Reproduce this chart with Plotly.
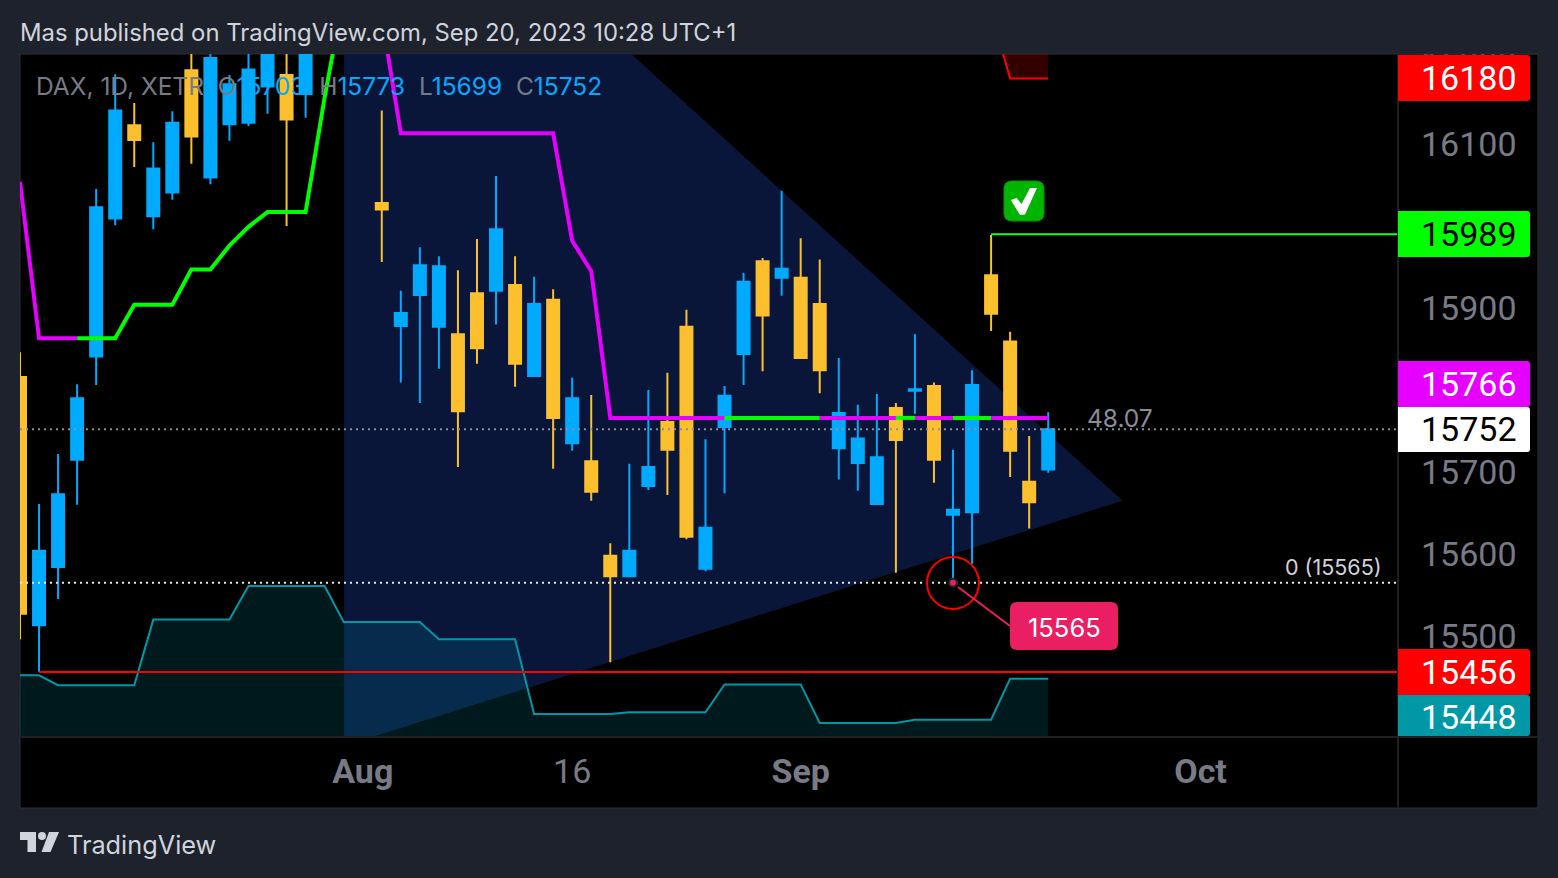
import plotly.graph_objects as go

# ---------- data ----------
candle_idx = [0,1,2,3,4,5,6,7,8,9,10,11,12,13,14,15,
              19,20,21,22,23,24,25,26,27,28,29,30,31,32,33,34,35,36,37,38,39,40,41,42,43,44,45,46,47,48,49,50,51,52,53,54]
opens  = [15816,15513,15584,15715,15841,16009,16123,16012,16041,16190,16059,16124,16126,16170,16184,16161,
          16028,15878,15916,15877,15868,15918,15921,15928,15817,15910,15735,15713,15598,15573,15683,15761,15877,15582,15755,15844,15957,15937,15937,15905,15729,15711,15661,15778,15799,15805,15648,15651,15940,15859,15688,15703]
highs  = [15846,15661,15722,15807,16045,16185,16150,16102,16140,16239,16217,16184,16217,16227,16227,16227,
          16141,15921,15974,15963,15946,15984,16061,15963,15938,15923,15815,15794,15613,15710,15800,15821,15898,15740,15805,15943,15961,16043,15985,15959,15839,15782,15795,15784,15868,15809,15727,15824,15989,15871,15744,15773]
lows   = [15496,15456,15545,15660,15806,16001,16072,15996,16032,16076,16051,16104,16122,16137,16000,16132,
          15956,15809,15784,15826,15706,15832,15880,15804,15817,15704,15726,15665,15468,15572,15678,15672,15618,15579,15674,15806,15823,15915,15839,15796,15691,15677,15661,15577,15771,15687,15565,15588,15872,15694,15631,15699]
closes = [15527,15604,15673,15790,16023,16141,16105,16070,16126,16109,16205,16173,16191,16221,16130,16221,
          16020,15894,15952,15951,15774,15851,15996,15832,15905,15766,15790,15676,15573,15604,15706,15727,15621,15632,15793,15932,15891,15948,15839,15824,15772,15741,15718,15739,15801,15715,15654,15806,15893,15726,15663,15752]

atr_idx = list(range(55))
atr_val = [15452,15452,15440,15440,15440,15440,15440,15520,15520,15520,15520,15520,15561,15561,15561,15561,15561,
           15517,15517,15517,15517,15517,15496,15496,15496,15496,15496,15405,15405,15405,15405,15405,
           15407,15407,15407,15407,15407,15441,15441,15441,15441,15441,15394,15394,15394,15394,15394,
           15398,15398,15398,15398,15398,15448,15448,15448]

trend_a_idx = [0,1,2,3];                 trend_a_val = [16054,15863,15863,15863]
trend_b_idx = [3,4,5,6,7,8,9,10,11,12,13,14,15,16,17]
trend_b_val = [15863,15863,15863,15904,15904,15904,15947,15947,15976,15999,16017,16017,16017,16157,16282]
trend_c_idx = [19,20,21,22,23,24,25,26,27,28,29,30,31,32,33,34,35,36,37]
trend_c_val = [16254,16113,16113,16113,16113,16113,16113,16113,16113,16113,15982,15945,15766,15766,15766,15766,15766,15766,15766]
level_mid = 15766
green_segments = [(37,42),(46,47),(49,51)]
magenta_segments = [(42,46),(47,49),(51,54)]

stop_idx = [51,52,54];  stop_val = [16260,16180,16180]
stop_top = 16300
target_price = 15990;   target_from = 51
support_price = 15456;  support_from = 1
last_close = 15752
low_price = 15565;      low_idx = 49
x_end = 72.37
y_top, y_bot = 16209.76, 15376.83

tri_x = [17.02, 32.1, 57.9, 18.49, 17.02]
tri_y = [y_top, y_top, 15665, y_bot, y_bot]

tick_prices = [16200,16100,15900,15700,15600,15500]
date_ticks = [18,29,41,62]
date_labels = ["<b>Aug</b>","16","<b>Sep</b>","<b>Oct</b>"]
price_tags = [("16180",55,101,78,"#ff0000","#ffffff"),("15989",211,257,234,"#00ff00","#000000"),
              ("15766",361,407,384,"#e600ff","#ffffff"),("15752",407,452,429,"#ffffff","#000000"),
              ("15456",649,695,672,"#ff0000","#ffffff"),("15448",695,736,717,"#0097a7","#ffffff")]

# ---------- style ----------
BG="#1e222d"; BLUE="#00aaff"; ORANGE="#fcc02e"; MAG="#e600ff"; GRN="#00ff00"; TEAL="#0097a7"; GREY="#787b86"; LIGHT="#d1d4dc"
FONT="Inter"; NUM="Roboto"
def X(p): return (p-20)/1378
def Y(p): return (737-p)/683
def rrect(x0,y0,x1,y1,r):
    return (f"M{X(x0+r)},{Y(y0)} L{X(x1-r)},{Y(y0)} Q{X(x1)},{Y(y0)} {X(x1)},{Y(y0+r)} "
            f"L{X(x1)},{Y(y1-r)} Q{X(x1)},{Y(y1)} {X(x1-r)},{Y(y1)} L{X(x0+r)},{Y(y1)} "
            f"Q{X(x0)},{Y(y1)} {X(x0)},{Y(y1-r)} L{X(x0)},{Y(y0+r)} Q{X(x0)},{Y(y0)} {X(x0+r)},{Y(y0)} Z")
def rtag(x0,y0,x1,y1,r):
    return (f"M{X(x0)},{Y(y0)} L{X(x1-r)},{Y(y0)} Q{X(x1)},{Y(y0)} {X(x1)},{Y(y0+r)} "
            f"L{X(x1)},{Y(y1-r)} Q{X(x1)},{Y(y1)} {X(x1-r)},{Y(y1)} L{X(x0)},{Y(y1)} Z")
def poly(pts):
    return "M"+" L".join(f"{X(a)},{Y(b)}" for a,b in pts)+" Z"
def pshape(path,fill,line=None,lw=0,layer="above"):
    return dict(type="path",xref="paper",yref="paper",path=path,fillcolor=fill,layer=layer,
                line=dict(color=line or fill,width=lw))
def pline(x0,y0,x1,y1,c,w,layer="above"):
    return dict(type="line",xref="paper",yref="paper",x0=X(x0),y0=Y(y0),x1=X(x1),y1=Y(y1),layer=layer,line=dict(color=c,width=w))
def note(t,x,y,size,color,anchor="left",font=FONT):
    return dict(text=t,xref="paper",yref="paper",x=X(x),y=Y(y),xanchor=anchor,yanchor="middle",showarrow=False,
                font=dict(size=size,color=color,family=font),borderpad=0,borderwidth=0)

fig=go.Figure()
fig.add_trace(go.Candlestick(x=candle_idx,open=opens,high=highs,low=lows,close=closes,
    increasing=dict(line=dict(color=BLUE,width=2),fillcolor=BLUE),
    decreasing=dict(line=dict(color=ORANGE,width=2),fillcolor=ORANGE),
    whiskerwidth=0,showlegend=False,hoverinfo="skip"))
fig.add_trace(go.Scatter(x=atr_idx,y=atr_val,mode="lines",line=dict(color=TEAL,width=2),fill="tozeroy",
    fillcolor="rgba(0,151,167,0.17)",showlegend=False,hoverinfo="skip"))
fig.add_trace(go.Scatter(x=stop_idx+[stop_idx[-1],stop_idx[0]],y=stop_val+[stop_top,stop_top],mode="none",fill="toself",
    fillcolor="rgba(255,0,0,0.2)",showlegend=False,hoverinfo="skip"))
fig.add_trace(go.Scatter(x=stop_idx,y=stop_val,mode="lines",line=dict(color="#ff0000",width=2),showlegend=False,hoverinfo="skip"))
LW=4
fig.add_trace(go.Scatter(x=trend_a_idx,y=trend_a_val,mode="lines",line=dict(color=MAG,width=LW),showlegend=False,hoverinfo="skip"))
fig.add_trace(go.Scatter(x=trend_b_idx,y=trend_b_val,mode="lines",line=dict(color=GRN,width=LW),showlegend=False,hoverinfo="skip"))
fig.add_trace(go.Scatter(x=trend_c_idx,y=trend_c_val,mode="lines",line=dict(color=MAG,width=LW),showlegend=False,hoverinfo="skip"))
for a,b in magenta_segments:
    fig.add_trace(go.Scatter(x=[a,b],y=[level_mid,level_mid],mode="lines",line=dict(color=MAG,width=LW),showlegend=False,hoverinfo="skip"))
for a,b in green_segments:
    fig.add_trace(go.Scatter(x=[a,b],y=[level_mid,level_mid],mode="lines",line=dict(color=GRN,width=LW),showlegend=False,hoverinfo="skip"))
fig.add_trace(go.Scatter(x=[support_from,x_end],y=[support_price]*2,mode="lines",line=dict(color="#ff0000",width=2),showlegend=False,hoverinfo="skip"))
fig.add_trace(go.Scatter(x=[target_from,x_end],y=[target_price]*2,mode="lines",line=dict(color="#19ff19",width=2),showlegend=False,hoverinfo="skip"))
fig.add_trace(go.Scatter(x=[0,x_end],y=[last_close]*2,mode="lines",line=dict(color="#8a8e99",width=2,dash="2px,4px"),showlegend=False,hoverinfo="skip"))
fig.add_trace(go.Scatter(x=[0,x_end],y=[low_price]*2,mode="lines",line=dict(color="#e8e8e8",width=2,dash="2px,4px"),showlegend=False,hoverinfo="skip"))
fig.add_trace(go.Scatter(x=[low_idx],y=[low_price],mode="markers",marker=dict(color="#e91e63",size=8,line=dict(color="#1e222d",width=2)),showlegend=False,hoverinfo="skip"))

shapes=[
    pshape(poly([(20,54),(1538,54),(1538,808),(20,808)]),"#000000","#2a2e39",1,"below"),
    dict(type="path",xref="x",yref="y",layer="below",line=dict(width=0),fillcolor="#09163a",
         path="M"+" L".join(f"{a},{b}" for a,b in zip(tri_x,tri_y))+" Z"),
    pline(1398,54,1398,808,"#1f1f1f",2),
    pline(20,737,1538,737,"#1f1f1f",2),
    pshape(poly([(1398,40),(1538,40),(1538,54),(1398,54)]),BG),
    pline(1398,54,1538,54,"#2a2e39",1),
]
for t,y0,y1,yc,fill,tc in price_tags:
    shapes.append(pshape(rtag(1398,y0,1530,y1,3),fill))
shapes.append(dict(type="circle",xref="paper",yref="paper",x0=X(927),x1=X(979),y0=Y(557),y1=Y(609),layer="above",line=dict(color="#ff0000",width=2)))
shapes.append(pline(958,587,1010,626,"#e91e63",2))
shapes.append(pshape(rrect(1010,602,1118,650,7),"#e91e63"))
shapes.append(pshape(rrect(1004,181,1044,221,8),"#00b400","#009a00",1))
shapes.append(pshape(poly([(1010.7,200),(1016.7,198),(1021.5,204),(1030,188),(1037,188),(1025,214.5),(1020,215)]),"#ffffff"))
shapes.append(pshape(poly([(20,832),(36,832),(36,852),(27.5,852),(27.5,840),(20,840)]),LIGHT))
shapes.append(dict(type="circle",xref="paper",yref="paper",x0=X(38),x1=X(46),y0=Y(832),y1=Y(840),layer="above",fillcolor=LIGHT,line=dict(width=0)))
shapes.append(pshape(poly([(49,832),(59,832),(50.5,852),(41.5,852)]),LIGHT))

annots=[
    note("Mas published on TradingView.com, Sep 20, 2023 10:28 UTC+1",20,32,23.87,LIGHT),
    note(f"DAX, 1D, XETR  O<span style='color:{BLUE}'>15703</span>  H<span style='color:{BLUE}'>15773</span>  L<span style='color:{BLUE}'>15699</span>  C<span style='color:{BLUE}'>15752</span>",36,86,24.5,GREY),
    note("48.07",1120,418,24.5,"#8a8e99","center"),
    note("0 (15565)",1382,567,21.5,LIGHT,"right"),
    note("15565",1064,627,25.5,"#ffffff","center"),
    note("TradingView",67,844,25.3,LIGHT),
]
for t,y0,y1,yc,fill,tc in price_tags:
    annots.append(note(t,1517,yc,34,tc,"right",NUM))

fig.update_layout(
    width=1558,height=878,autosize=False,
    margin=dict(l=20,r=160,t=54,b=141,pad=0),
    paper_bgcolor=BG,plot_bgcolor="#000000",showlegend=False,
    boxgap=0.1,
    xaxis=dict(range=[0,x_end],tickmode="array",tickvals=date_ticks,ticktext=date_labels,showgrid=False,zeroline=False,
               showline=False,ticks="",rangeslider=dict(visible=False),ticklabelstandoff=11,
               tickfont=dict(size=34,color=GREY,family=NUM)),
    yaxis=dict(range=[y_bot,y_top],side="right",tickmode="array",tickvals=tick_prices,ticktext=[str(v) for v in tick_prices],
               showgrid=False,zeroline=False,showline=False,ticks="",ticklabelstandoff=22,
               tickfont=dict(size=34,color=GREY,family=NUM)),
    shapes=shapes,annotations=annots,
)
fig.write_html("out.html",config=dict(displayModeBar=False),
    post_script="document.body.style.margin='0';document.body.style.background='#1e222d';document.documentElement.style.overflow='hidden';")
